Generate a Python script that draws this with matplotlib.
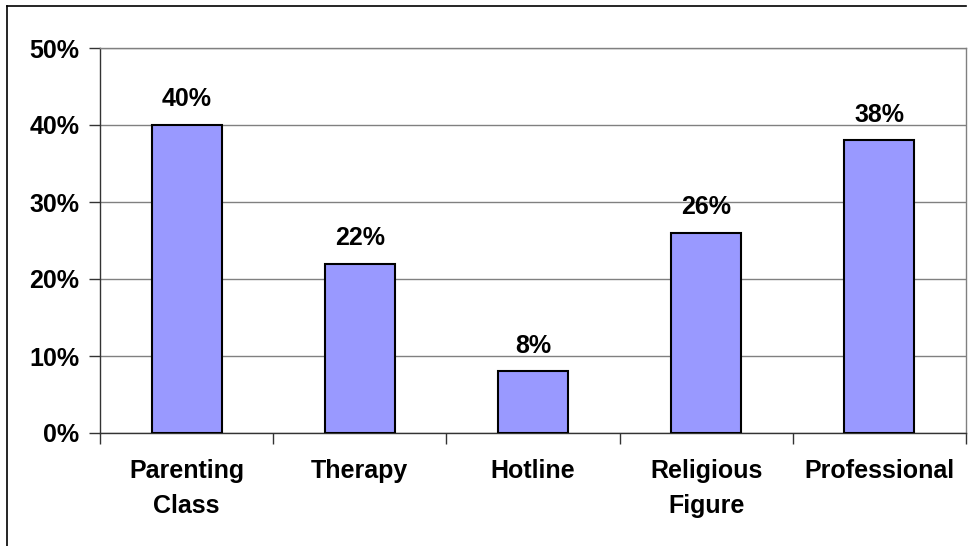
import matplotlib.pyplot as plt
from matplotlib.lines import Line2D
from matplotlib.ticker import FuncFormatter

categories = ['Parenting\nClass', 'Therapy', 'Hotline', 'Religious\nFigure', 'Professional']
values = [40, 22, 8, 26, 38]
y_ticks = [0, 10, 20, 30, 40, 50]

plt.rcParams['font.family'] = ['Liberation Sans', 'DejaVu Sans']

W, H = 972, 546
fig = plt.figure(figsize=(W / 100, H / 100), dpi=100)
ax = fig.add_axes([100 / W, 1 - 433 / H, 866 / W, 385 / H])

x = list(range(len(categories)))
ax.bar(x, values, width=0.404, color='#9999FF', edgecolor='black', linewidth=1.5, zorder=3)
for xi, v in zip(x, values):
    ax.text(xi, v + 2.45, f'{v}%', ha='center', va='baseline', fontsize=18, fontweight='bold')

ax.set_xlim(-0.5, len(categories) - 0.5)
ax.set_ylim(0, 50)
ax.set_yticks(y_ticks)
ax.yaxis.set_major_formatter(FuncFormatter(lambda v, p: f'{v:.0f}%'))
ax.yaxis.grid(True, color='#808080', linewidth=1, zorder=0)
ax.tick_params(axis='y', length=8, width=1, color='#333333', labelsize=18, pad=7)
for lab in ax.get_yticklabels():
    lab.set_fontweight('bold')

# category ticks sit at boundaries, labels at centers
ax.set_xticks([i - 0.5 for i in range(len(categories) + 1)])
ax.set_xticklabels([])
ax.set_xticks(x, minor=True)
ax.set_xticklabels(categories, minor=True, fontsize=18, fontweight='bold', linespacing=1.55)
ax.tick_params(axis='x', which='major', length=8, width=1, color='#333333')
ax.tick_params(axis='x', which='minor', length=0, pad=19)

for s in ['top', 'right']:
    ax.spines[s].set_color('#808080')
    ax.spines[s].set_linewidth(1)
for s in ['left', 'bottom']:
    ax.spines[s].set_color('#333333')
    ax.spines[s].set_linewidth(1)

# outer chart frame (partially cropped)
fig.add_artist(Line2D([7 / W, 7 / W], [0, 1 - 6 / H], color='black', lw=1.2))
fig.add_artist(Line2D([7 / W, 966 / W], [1 - 6 / H, 1 - 6 / H], color='black', lw=1.2))

fig.savefig('out.png', dpi=100)
